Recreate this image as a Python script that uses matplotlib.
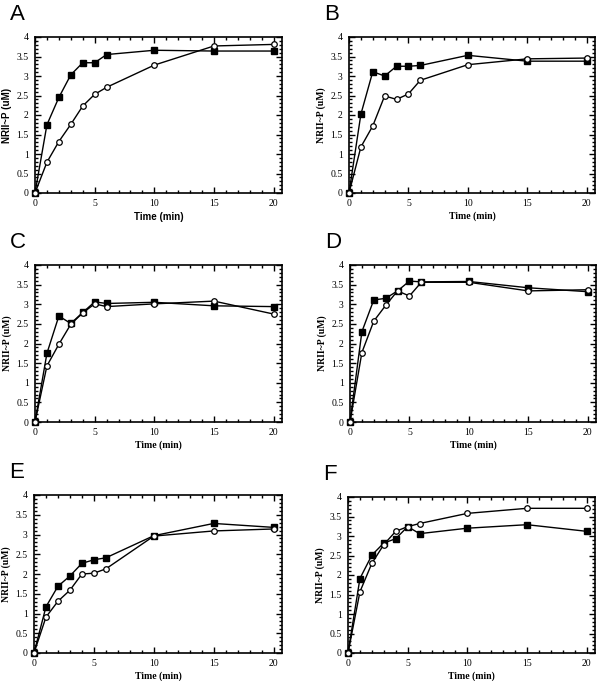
import matplotlib
matplotlib.use("Agg")
import matplotlib.pyplot as plt
from matplotlib.ticker import MultipleLocator

# ---------------------------------------
# Data
# ---------------------------------------
time = [0, 1, 2, 3, 4, 5, 6, 10, 15, 20]

sq_A = [0, 1.75, 2.45, 3.03, 3.34, 3.34, 3.55, 3.66, 3.64, 3.64]
ci_A = [0, 0.79, 1.32, 1.76, 2.23, 2.53, 2.71, 3.28, 3.77, 3.81]

sq_B = [0, 2.02, 3.11, 3.00, 3.25, 3.25, 3.27, 3.53, 3.38, 3.38]
ci_B = [0, 1.18, 1.72, 2.49, 2.40, 2.54, 2.89, 3.29, 3.44, 3.46]

sq_C = [0, 1.75, 2.70, 2.51, 2.79, 3.06, 3.02, 3.05, 2.96, 2.94]
ci_C = [0, 1.43, 1.98, 2.49, 2.78, 3.01, 2.94, 3.01, 3.08, 2.75]

sq_D = [0, 2.30, 3.11, 3.15, 3.34, 3.59, 3.57, 3.58, 3.42, 3.32]
ci_D = [0, 1.77, 2.57, 2.97, 3.34, 3.21, 3.56, 3.56, 3.34, 3.37]

sq_E = [0, 1.17, 1.69, 1.95, 2.27, 2.36, 2.41, 2.97, 3.28, 3.18]
ci_E = [0, 0.91, 1.31, 1.59, 2.00, 2.02, 2.13, 2.96, 3.09, 3.14]

sq_F = [0, 1.91, 2.51, 2.82, 2.93, 3.24, 3.06, 3.20, 3.29, 3.12]
ci_F = [0, 1.57, 2.30, 2.78, 3.12, 3.24, 3.32, 3.58, 3.71, 3.71]

panel_labels = ["A", "B", "C", "D", "E", "F"]
squares = [sq_A, sq_B, sq_C, sq_D, sq_E, sq_F]
circles = [ci_A, ci_B, ci_C, ci_D, ci_E, ci_F]

# axes boxes in pixels: left, top, right, bottom
W, H = 597, 681
boxes = [
    (35, 37, 282, 193),
    (349, 37, 595, 193),
    (35, 265, 282, 422),
    (350, 265, 596, 422),
    (34, 495, 282, 653),
    (348, 497, 595, 653),
]

fig = plt.figure(figsize=(W / 100, H / 100), dpi=100)

for i, lab in enumerate(panel_labels):
    l, t, r, b = boxes[i]
    ax = fig.add_axes([l / W, 1 - b / H, (r - l) / W, (b - t) / H])

    # panel A uses a sans font for its labels, the others serif
    lab_font = "Liberation Sans" if i == 0 else "Liberation Serif"

    ax.plot(time, squares[i], color="black", lw=1, marker="s", ms=4.2,
            mfc="black", mec="black", clip_on=False, zorder=3)
    ax.plot(time, circles[i], color="black", lw=1, marker="o", ms=4,
            mfc="white", mec="black", mew=0.9, clip_on=False, zorder=4)

    ax.set_xlim(0, 20.7)
    ax.set_ylim(0, 4)
    ax.xaxis.set_major_locator(MultipleLocator(5))
    ax.xaxis.set_minor_locator(MultipleLocator(1))
    ax.yaxis.set_major_locator(MultipleLocator(0.5))
    ax.yaxis.set_minor_locator(MultipleLocator(0.1))
    ax.set_yticks([0, 0.5, 1, 1.5, 2, 2.5, 3, 3.5, 4])
    ax.set_yticklabels(["0", "0.5", "1", "1.5", "2", "2.5", "3", "3.5", "4"])
    ax.tick_params(which="both", direction="in", top=True, right=True,
                   labelsize=7, width=1)
    ax.tick_params(which="major", length=4)
    ax.tick_params(axis="y", which="major", pad=4.5)
    ax.tick_params(axis="x", which="major", pad=4)
    ax.tick_params(which="minor", length=2)
    for tl in ax.get_xticklabels() + ax.get_yticklabels():
        tl.set_fontfamily("Liberation Serif")
    for s in ax.spines.values():
        s.set_linewidth(1.2)

    ax.set_xlabel("Time (min)", fontsize=7, fontweight="bold",
                  family=lab_font, labelpad=3)
    ax.set_ylabel("NRII~P (uM)", fontsize=7, fontweight="bold",
                  family=lab_font, labelpad=3)

    # big panel letter
    fig.text((l - 25) / W, 1 - (t - 17) / H, lab, fontsize=16,
             family="Liberation Sans", va="baseline", ha="left")

fig.savefig("out.png", dpi=100)
